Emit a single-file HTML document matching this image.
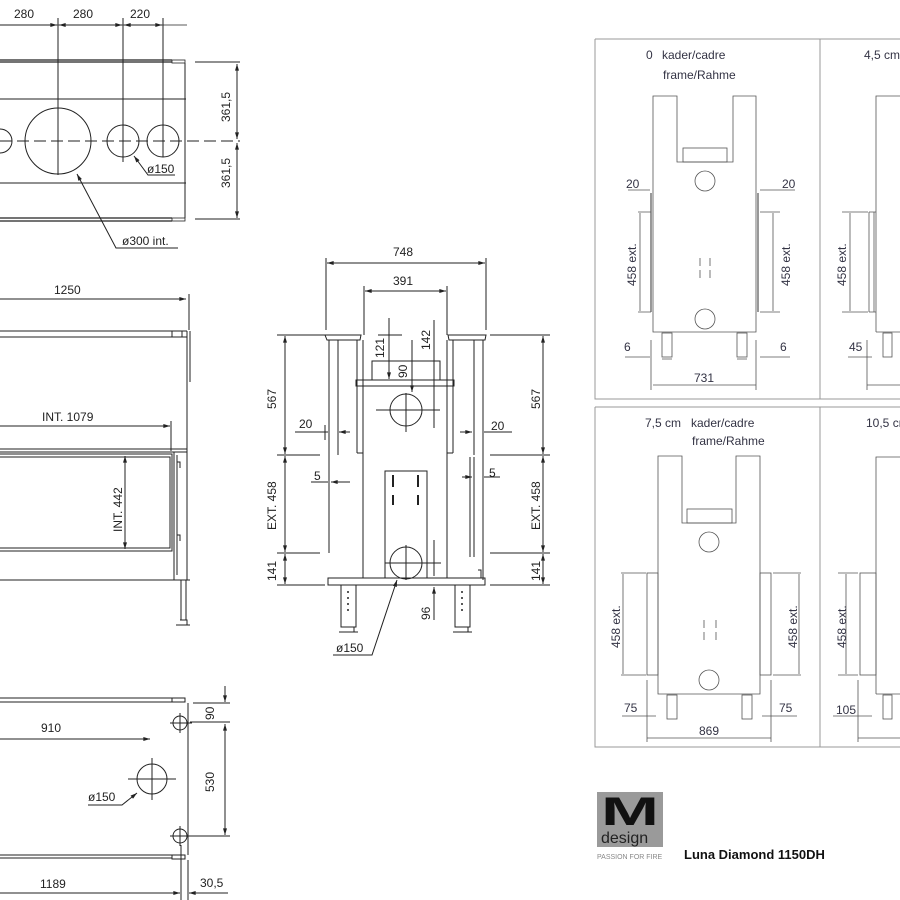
<!DOCTYPE html>
<html><head><meta charset="utf-8"><style>
html,body{margin:0;padding:0;background:#fff}
svg{display:block}
text{font-family:"Liberation Sans",sans-serif;font-size:12px;fill:#222}
.p text{fill:#334}
</style></head><body>
<svg width="900" height="900" viewBox="0 0 900 900" xmlns="http://www.w3.org/2000/svg">
<defs>
<marker id="a" viewBox="0 0 10 6" refX="10" refY="3" markerWidth="8" markerHeight="4" orient="auto-start-reverse"><path d="M0,0L10,3L0,6z" fill="#222"/></marker>
</defs>
<g stroke="#222" stroke-width="1" fill="none">
<line x1="0" y1="25" x2="187" y2="25" stroke-width="0.8"/>
<path d="M0,60H172M0,62H172M0,218H172M0,221H172" stroke-width="1.2"/>
<rect x="172" y="60" width="13" height="3" stroke-width="0.8"/>
<rect x="172" y="218" width="13" height="3" stroke-width="0.8"/>
<path d="M185,63V218" />
<path d="M0,99H186M0,183H186"/>
<path d="M0,141H240" stroke-dasharray="12,5"/>
<circle cx="58" cy="141" r="33"/>
<circle cx="123" cy="141" r="16"/>
<circle cx="163" cy="141" r="16"/>
<path d="M0,129A12,12 0 0 1 0,153"/>
<path d="M58,18V175M123,18V162M163,18V157"/>
<path d="M0,25H57" marker-end="url(#a)"/>
<path d="M59,25H122" marker-start="url(#a)" marker-end="url(#a)"/>
<path d="M124,25H162" marker-start="url(#a)" marker-end="url(#a)"/>
<path d="M195,62H240M195,219H240"/>
<path d="M237,64V139" marker-start="url(#a)" marker-end="url(#a)"/>
<path d="M237,143V218" marker-start="url(#a)" marker-end="url(#a)"/>
<path d="M175,175H148L134,156" marker-end="url(#a)"/>
<path d="M178,248H116L77,174" marker-end="url(#a)"/>
<path d="M0,299H186" marker-end="url(#a)"/>
<path d="M189,294V330"/>
<path d="M0,331H187M0,337H187" stroke-width="1.1"/>
<rect x="172" y="331" width="10" height="6"/>
<path d="M187,331V382M190,331V382" />
<path d="M187,382V580"/>
<path d="M0,449H187M0,452H187"/>
<path d="M0,426H170" marker-end="url(#a)"/>
<path d="M171,421V451"/>
<path d="M0,454H172V551H0M0,457H170V548H0"/>
<path d="M174,452V580M177,455V575"/>
<path d="M177,462h3v6M177,535h3v6"/>
<path d="M0,580H190"/>
<path d="M181,580V620M186,580V620M176,625H190M180,620h7v5"/>
<path d="M125,456V549" marker-start="url(#a)" marker-end="url(#a)"/>
<path d="M0,698H172M0,702H172M0,855H172M0,858H172" stroke-width="1.1"/>
<rect x="172" y="698" width="13" height="4"/>
<rect x="172" y="855" width="13" height="4"/>
<path d="M188,703V855"/>
<circle cx="180" cy="723" r="7"/><circle cx="180" cy="836" r="7"/>
<path d="M170,723H192M180,713V733M170,836H192M180,826V846"/>
<circle cx="152" cy="779" r="15"/>
<path d="M128,779H176M152,758V800"/>
<path d="M0,739H150" marker-end="url(#a)"/>
<path d="M88,805H122L137,793" marker-end="url(#a)"/>
<path d="M193,703H230M190,722H230M190,836H230"/>
<path d="M225,686V702" marker-end="url(#a)"/>
<path d="M225,724V835" marker-start="url(#a)" marker-end="url(#a)"/>
<path d="M181,845V900M188,860V900"/>
<path d="M0,893H180" marker-end="url(#a)"/>
<path d="M228,893H189" marker-end="url(#a)"/>
<path d="M326,258V330M486,258V330M364,286V335M447,286V335"/>
<path d="M327,263H485" marker-start="url(#a)" marker-end="url(#a)"/>
<path d="M365,291H446" marker-start="url(#a)" marker-end="url(#a)"/>
<path d="M325,335H361L360,340H327Z"/>
<path d="M448,335H486L485,340H449Z"/>
<path d="M329,340V455M338,340V455M329,455V553M357,340V453M363,340V453M357,453H363"/>
<path d="M483,340V455M474,340V455M483,455V580M453,340V453M447,340V453M447,453H453"/>
<path d="M356,380H454V386H356Z"/>
<rect x="372" y="361" width="68" height="19"/>
<path d="M363,386V578M447,386V578"/>
<rect x="385" y="471" width="42" height="107"/>
<path d="M393,475v12M393,495v10M418,475v12M418,495v10" stroke-width="2"/>
<circle cx="406" cy="410" r="16"/><circle cx="406" cy="563" r="16"/>
<path d="M376,410H436M406,393V432M385,563H441M406,545V580"/>
<rect x="328" y="578" width="157" height="7"/>
<path d="M470,457V557M474,457V557"/>
<path d="M478,570h3v8"/>
<rect x="341" y="585" width="15" height="42"/><rect x="455" y="585" width="15" height="42"/>
<path d="M339,632H358M344,627h10v5M453,632H472M458,627h10v5"/>
<path d="M348,591v2M348,597v2M348,603v2M348,609v2M462,591v2M462,597v2M462,603v2M462,609v2" stroke-width="1.5"/>
<path d="M277,335H325M490,335H550M277,455H320M490,455H550M277,553H320M490,553H550M277,585H325M490,585H550"/>
<path d="M285,336V454" marker-start="url(#a)" marker-end="url(#a)"/>
<path d="M285,456V552" marker-start="url(#a)" marker-end="url(#a)"/>
<path d="M285,554V584" marker-start="url(#a)" marker-end="url(#a)"/>
<path d="M543,336V454" marker-start="url(#a)" marker-end="url(#a)"/>
<path d="M543,456V552" marker-start="url(#a)" marker-end="url(#a)"/>
<path d="M543,554V584" marker-start="url(#a)" marker-end="url(#a)"/>
<path d="M295,432H328M350,432H339" marker-end="url(#a)"/>
<path d="M325,425V440"/>
<path d="M512,432H484M460,432H472" marker-end="url(#a)"/>
<path d="M311,482H328M350,482H331" marker-end="url(#a)"/>
<path d="M500,477H484M462,477H472" marker-end="url(#a)"/>
<path d="M389,318V379" marker-end="url(#a)"/>
<path d="M378,335H402"/>
<path d="M412,340V392" marker-end="url(#a)"/>
<path d="M434,320V428M428,410H440M434,540V576M428,563H440"/>
<path d="M434,620V587" marker-end="url(#a)"/>
<path d="M333,655H372L397,580" marker-end="url(#a)"/>
</g>
<text x="14" y="18">280</text><text x="73" y="18">280</text><text x="130" y="18">220</text>
<text transform="translate(230,122) rotate(-90)">361,5</text>
<text transform="translate(230,188) rotate(-90)">361,5</text>
<text x="147" y="173">ø150</text>
<text x="122" y="245">ø300 int.</text>
<text x="54" y="294">1250</text>
<text x="42" y="421">INT. 1079</text>
<text transform="translate(122,532) rotate(-90)">INT. 442</text>
<text x="41" y="732">910</text>
<text x="88" y="801">ø150</text>
<text transform="translate(214,720) rotate(-90)">90</text>
<text transform="translate(214,792) rotate(-90)">530</text>
<text x="40" y="888">1189</text>
<text x="200" y="887">30,5</text>
<text x="393" y="256">748</text>
<text x="393" y="285">391</text>
<text transform="translate(384,358) rotate(-90)">121</text>
<text transform="translate(430,350) rotate(-90)">142</text>
<text transform="translate(407,378) rotate(-90)">90</text>
<text transform="translate(276,409) rotate(-90)">567</text>
<text transform="translate(276,530) rotate(-90)">EXT. 458</text>
<text transform="translate(276,581) rotate(-90)">141</text>
<text transform="translate(540,409) rotate(-90)">567</text>
<text transform="translate(540,530) rotate(-90)">EXT. 458</text>
<text transform="translate(540,581) rotate(-90)">141</text>
<text x="299" y="428">20</text><text x="491" y="430">20</text>
<text x="314" y="480">5</text><text x="489" y="477">5</text>
<text transform="translate(430,620) rotate(-90)">96</text>
<text x="336" y="652">ø150</text>
<g class="p">
<g stroke="#999" fill="none" stroke-width="1">
<path d="M595,39H900M595,39V399H900M820,39V399M595,407H900M595,407V747H900M820,407V747"/>
</g>
<g stroke="#555" fill="none" stroke-width="0.8">
<path d="M653,332V96H677V162H733V96H756V332Z"/>
<rect x="683" y="148" width="44" height="14"/>
<circle cx="705" cy="181" r="10"/><circle cx="705" cy="319" r="10"/>
<path d="M651,212V312M758,212V312M651,193V212M758,193V212" stroke-width="1.2"/>
<path d="M700,258v8M700,270v8M710,258v8M710,270v8"/>
<rect x="662" y="333" width="10" height="24"/><rect x="737" y="333" width="10" height="24"/>
<path d="M662,359h10M737,359h10"/>
<path d="M628,190H650M760,190H795M638,212H651M638,312H651M760,212H780M760,312H780"/>
<path d="M640,213V311M773,213V311"/>
<path d="M625,357H650M760,357H790M651,340V390M756,340V390M653,385H756"/>
<path d="M876,332V96H900M876,332H900"/>
<path d="M869,212V312M874,212V312M869,212H876M869,312H876"/>
<path d="M842,212H868M842,312H868M850,213V311"/>
<rect x="883" y="333" width="9" height="24"/>
<path d="M848,357H872M867,340V390M867,385H900"/>
<path d="M658,694V456H682V523H736V456H760V694Z"/>
<rect x="687" y="509" width="45" height="14"/>
<circle cx="709" cy="542" r="10"/><circle cx="709" cy="680" r="10"/>
<rect x="647" y="573" width="11" height="102"/><rect x="760" y="573" width="11" height="102"/>
<path d="M704,620v8M704,632v8M716,620v8M716,632v8"/>
<rect x="667" y="695" width="10" height="24"/><rect x="742" y="695" width="10" height="24"/>
<path d="M621,573H646M621,675H646M773,573H801M773,675H801M623,574V674M799,574V674"/>
<path d="M622,716H656M762,716H797M647,680V742M771,680V742M647,738H771"/>
<path d="M876,694V457H900M876,694H900"/>
<rect x="860" y="573" width="16" height="102"/>
<path d="M838,573H858M838,675H858M846,574V674"/>
<rect x="883" y="695" width="9" height="24"/>
<path d="M833,716H872M858,680V742M858,738H900"/>
</g>
<text x="646" y="59">0</text><text x="662" y="59">kader/cadre</text>
<text x="663" y="79">frame/Rahme</text>
<text x="864" y="59">4,5 cm</text>
<text x="645" y="427">7,5 cm</text><text x="691" y="427">kader/cadre</text>
<text x="692" y="445">frame/Rahme</text>
<text x="866" y="427">10,5 cm</text>
<text x="626" y="188">20</text><text x="782" y="188">20</text>
<text transform="translate(636,286) rotate(-90)">458 ext.</text>
<text transform="translate(790,286) rotate(-90)">458 ext.</text>
<text transform="translate(846,286) rotate(-90)">458 ext.</text>
<text x="624" y="351">6</text><text x="780" y="351">6</text><text x="849" y="351">45</text>
<text x="694" y="382">731</text>
<text transform="translate(620,648) rotate(-90)">458 ext.</text>
<text transform="translate(797,648) rotate(-90)">458 ext.</text>
<text transform="translate(846,648) rotate(-90)">458 ext.</text>
<text x="624" y="712">75</text><text x="779" y="712">75</text><text x="836" y="714">105</text>
<text x="699" y="735">869</text>
</g>
<rect x="597" y="792" width="66" height="55" fill="#9a9a9a"/>
<text x="601" y="825" style="font-size:40px;font-weight:bold;fill:#111" textLength="58" lengthAdjust="spacingAndGlyphs">M</text>
<text x="601" y="843" style="font-size:16px;fill:#222">design</text>
<text x="597" y="859" style="font-size:7px;fill:#888">PASSION FOR FIRE</text>
<text x="684" y="859" style="font-size:13px;font-weight:bold;fill:#111">Luna Diamond 1150DH</text>
</svg>
</body></html>
